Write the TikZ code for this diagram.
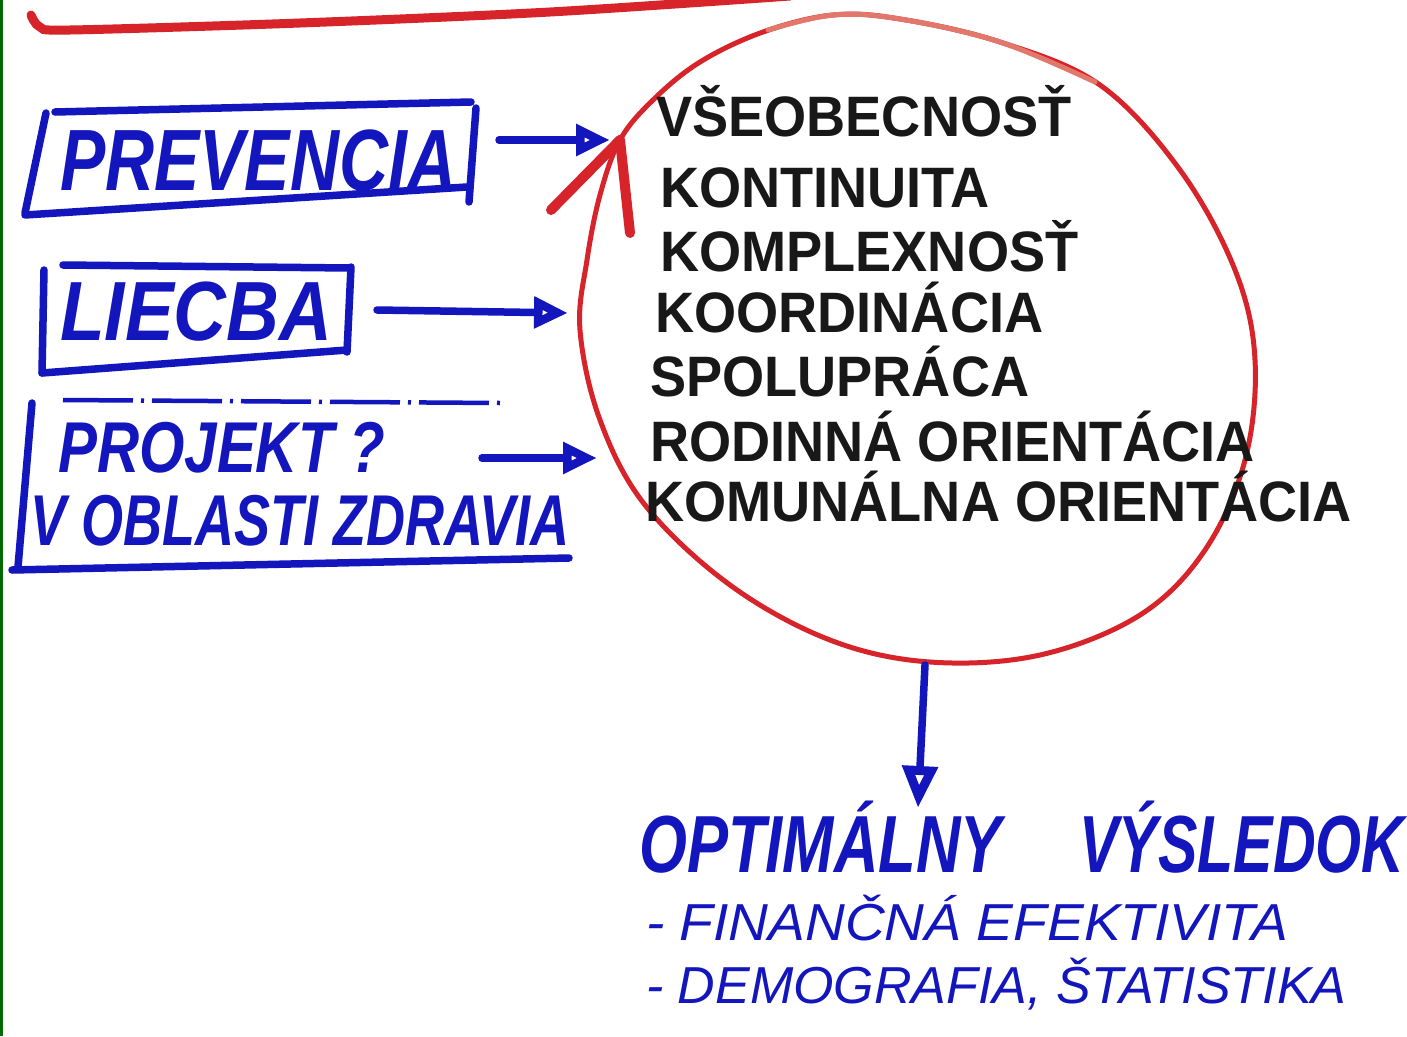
\documentclass[tikz,border=0pt]{standalone}
\usepackage{fontspec}
\setmainfont{Liberation Sans}
\usetikzlibrary{arrows.meta}
\definecolor{mblue}{RGB}{18,22,188}
\definecolor{mred}{RGB}{214,36,42}
\definecolor{mpale}{RGB}{226,120,108}
\definecolor{inkblack}{RGB}{24,24,24}
\definecolor{edgegreen}{RGB}{0,105,0}
\tikzset{
  bluepen/.style={draw=mblue, line width=7.5pt, line cap=round, line join=round},
  bluearrow/.style={bluepen, -{Triangle[open, length=34pt, width=30pt, line width=9pt]}},
  redpen/.style={draw=mred, line width=5pt, line cap=round, line join=round},
  bluebig/.style={anchor=base west, inner sep=0pt, text=mblue},
  listtext/.style={anchor=base west, inner sep=0pt, text=inkblack,
    font=\fontsize{57}{60}\selectfont\bfseries},
  thintext/.style={anchor=base west, inner sep=0pt, text=mblue,
    font=\fontsize{52}{56}\selectfont\itshape},
}
\begin{document}
\begin{tikzpicture}[x=1pt,y=-1pt]
\useasboundingbox (0,0) rectangle (1407,1036);
\fill[white] (0,0) rectangle (1407,1036);
% green edge
\fill[edgegreen] (0,0) rectangle (3,1036);

% top red line
\draw[draw=mred, line width=9pt, line cap=round]
  plot[smooth] coordinates {(31,15) (40,27) (70,30) (300,23) (550,12) (790,-4)};

% red circle
\draw[redpen] plot[smooth cycle, tension=0.6] coordinates {
  (620,140) (653,100) (700,62) (763,32) (833,15) (900,19) (1000,42) (1100,85)
  (1180,170) (1235,270) (1255,360) (1245,460) (1205,550) (1140,615) (1040,655)
  (930,662) (830,640) (730,585) (645,505) (600,420) (580,330) (587,260) (600,195)};
\draw[draw=mpale, line width=5pt, line cap=round]
  plot[smooth, tension=0.6] coordinates {(768,30) (833,15) (900,19) (1000,42) (1095,82)};
\coordinate (rtip) at (620,140);
\coordinate (rarmL) at (551,210);
\coordinate (rarmR) at (630,233);
\draw[draw=mred, line width=10pt, line cap=round, line join=round] (rarmL) -- (rtip) -- (rarmR);

% PREVENCIA box
\node[bluebig, font=\fontsize{87}{90}\selectfont\bfseries\itshape] (prev) at (60,190) {\scalebox{0.78}[1]{PREVENCIA}};
\draw[bluepen] (55,112) -- (471,102);
\draw[bluepen] (476,108) -- (469,202);
\draw[bluepen] (25,215) -- (467,187);
\draw[bluepen] (46,113) -- (25,213);

% LIECBA box
\node[bluebig, font=\fontsize{84}{88}\selectfont\bfseries\itshape] (liec) at (60,340) {\scalebox{0.87}[1]{LIECBA}};
\draw[bluepen] (63,265) -- (349,268);
\draw[bluepen] (351,267) -- (347,352);
\draw[bluepen] (42,373) -- (347,350);
\draw[bluepen] (44,270) -- (42,373);

% PROJEKT box
\node[bluebig, font=\fontsize{72}{76}\selectfont\bfseries\itshape] (proj1) at (58,472) {\scalebox{0.81}[1]{PROJEKT ?}};
\node[bluebig, font=\fontsize{72}{76}\selectfont\bfseries\itshape] (proj2) at (30,545) {\scalebox{0.75}[1]{V OBLASTI ZDRAVIA}};
\draw[draw=mblue, line width=4.5pt, dash pattern=on 70pt off 8pt on 3pt off 8pt] (63,400) -- (500,403);
\draw[bluepen] (32,403) -- (18,567);
\draw[bluepen] (12,570) -- (569,558);

% arrows into the circle
\coordinate (a1s) at (499,140); \coordinate (a1e) at (610,140);
\coordinate (a2s) at (377,310); \coordinate (a2e) at (568,313);
\coordinate (a3s) at (482,458); \coordinate (a3e) at (597,458);
\draw[bluearrow] (a1s) -- (a1e);
\draw[bluearrow] (a2s) -- (a2e);
\draw[bluearrow] (a3s) -- (a3e);

% list in the circle
\node[listtext] (l1) at (656,136) {\scalebox{0.95}[1]{VŠEOBECNOSŤ}};
\node[listtext] (l2) at (660,207) {\scalebox{0.95}[1]{KONTINUITA}};
\node[listtext] (l3) at (660,271) {\scalebox{0.95}[1]{KOMPLEXNOSŤ}};
\node[listtext] (l4) at (655,332) {\scalebox{0.95}[1]{KOORDINÁCIA}};
\node[listtext] (l5) at (650,396) {\scalebox{0.95}[1]{SPOLUPRÁCA}};
\node[listtext] (l6) at (650,461) {\scalebox{0.95}[1]{RODINNÁ ORIENTÁCIA}};
\node[listtext] (l7) at (645,521) {\scalebox{0.95}[1]{KOMUNÁLNA ORIENTÁCIA}};

% down arrow
\coordinate (ds) at (925,665);
\coordinate (de) at (918,808);
\draw[bluepen, -{Triangle[open, length=42pt, width=34pt, line width=9pt]}] (ds) -- (de);

% result
\node[bluebig, font=\fontsize{81}{84}\selectfont\bfseries\itshape] (opt) at (639,872) {\scalebox{0.76}[1]{OPTIMÁLNY}};
\node[bluebig, font=\fontsize{81}{84}\selectfont\bfseries\itshape] (vys) at (1079,872) {\scalebox{0.73}[1]{VÝSLEDOK}};
\node[thintext] (fin) at (646,940) {\scalebox{1.06}[1]{- FINANČNÁ EFEKTIVITA}};
\node[thintext] (dem) at (646,1003) {\scalebox{1.0}[1]{- DEMOGRAFIA, ŠTATISTIKA}};
\end{tikzpicture}
\end{document}
